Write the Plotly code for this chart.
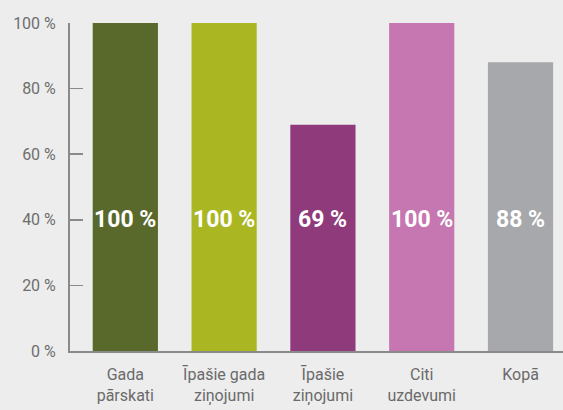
import plotly.graph_objects as go

categories = ["Gada<br>pārskati", "Īpašie gada<br>ziņojumi", "Īpašie<br>ziņojumi", "Citi<br>uzdevumi", "Kopā"]
values = [100, 100, 69, 100, 88]
labels = ["100 %", "100 %", "69 %", "100 %", "88 %"]
colors = ["#59692B", "#AAB722", "#8E3A7B", "#C676B0", "#A7A8AB"]
label_level = 40
y_ticks = [0, 20, 40, 60, 80, 100]
y_tick_text = ["0 %", "20 %", "40 %", "60 %", "80 %", "100 %"]

font_family = "Roboto, sans-serif"

fig = go.Figure()
fig.add_trace(go.Bar(
    x=list(range(len(categories))),
    y=values,
    marker=dict(color=colors, line=dict(width=0)),
    width=0.66,
    hoverinfo="skip",
))

for i, t in enumerate(labels):
    fig.add_annotation(
        x=i, y=label_level, text="<b>" + t + "</b>", showarrow=False,
        font=dict(family=font_family, size=23, color="white"),
        xanchor="center", yanchor="middle",
    )

fig.update_layout(
    width=563, height=410,
    margin=dict(l=70, r=0, t=23, b=59),
    paper_bgcolor="#EDEDED",
    plot_bgcolor="#EDEDED",
    showlegend=False,
    font=dict(family=font_family, color="#6E6E6E", size=16),
    xaxis=dict(
        tickmode="array",
        tickvals=list(range(len(categories))),
        ticktext=categories,
        range=[-0.56, 4.43],
        showgrid=False,
        zeroline=False,
        showline=True,
        linecolor="#8A8A8A",
        linewidth=2,
        ticks="",
        ticklabelstandoff=8,
        tickfont=dict(family=font_family, size=16, color="#6A6A6A"),
    ),
    yaxis=dict(
        range=[0, 100],
        tickmode="array",
        tickvals=y_ticks,
        ticktext=y_tick_text,
        showgrid=False,
        zeroline=False,
        showline=True,
        linecolor="#8A8A8A",
        linewidth=2,
        ticks="inside",
        ticklen=13,
        tickwidth=1.5,
        tickcolor="#8A8A8A",
        ticklabelstandoff=9,
        tickfont=dict(family=font_family, size=16, color="#6E6E6E"),
    ),
)

fig.write_html(
    "out.html",
    config={"displayModeBar": False, "staticPlot": True},
    post_script="document.body.style.margin='0px';document.body.style.overflow='hidden';document.body.style.background='#EDEDED';",
)
